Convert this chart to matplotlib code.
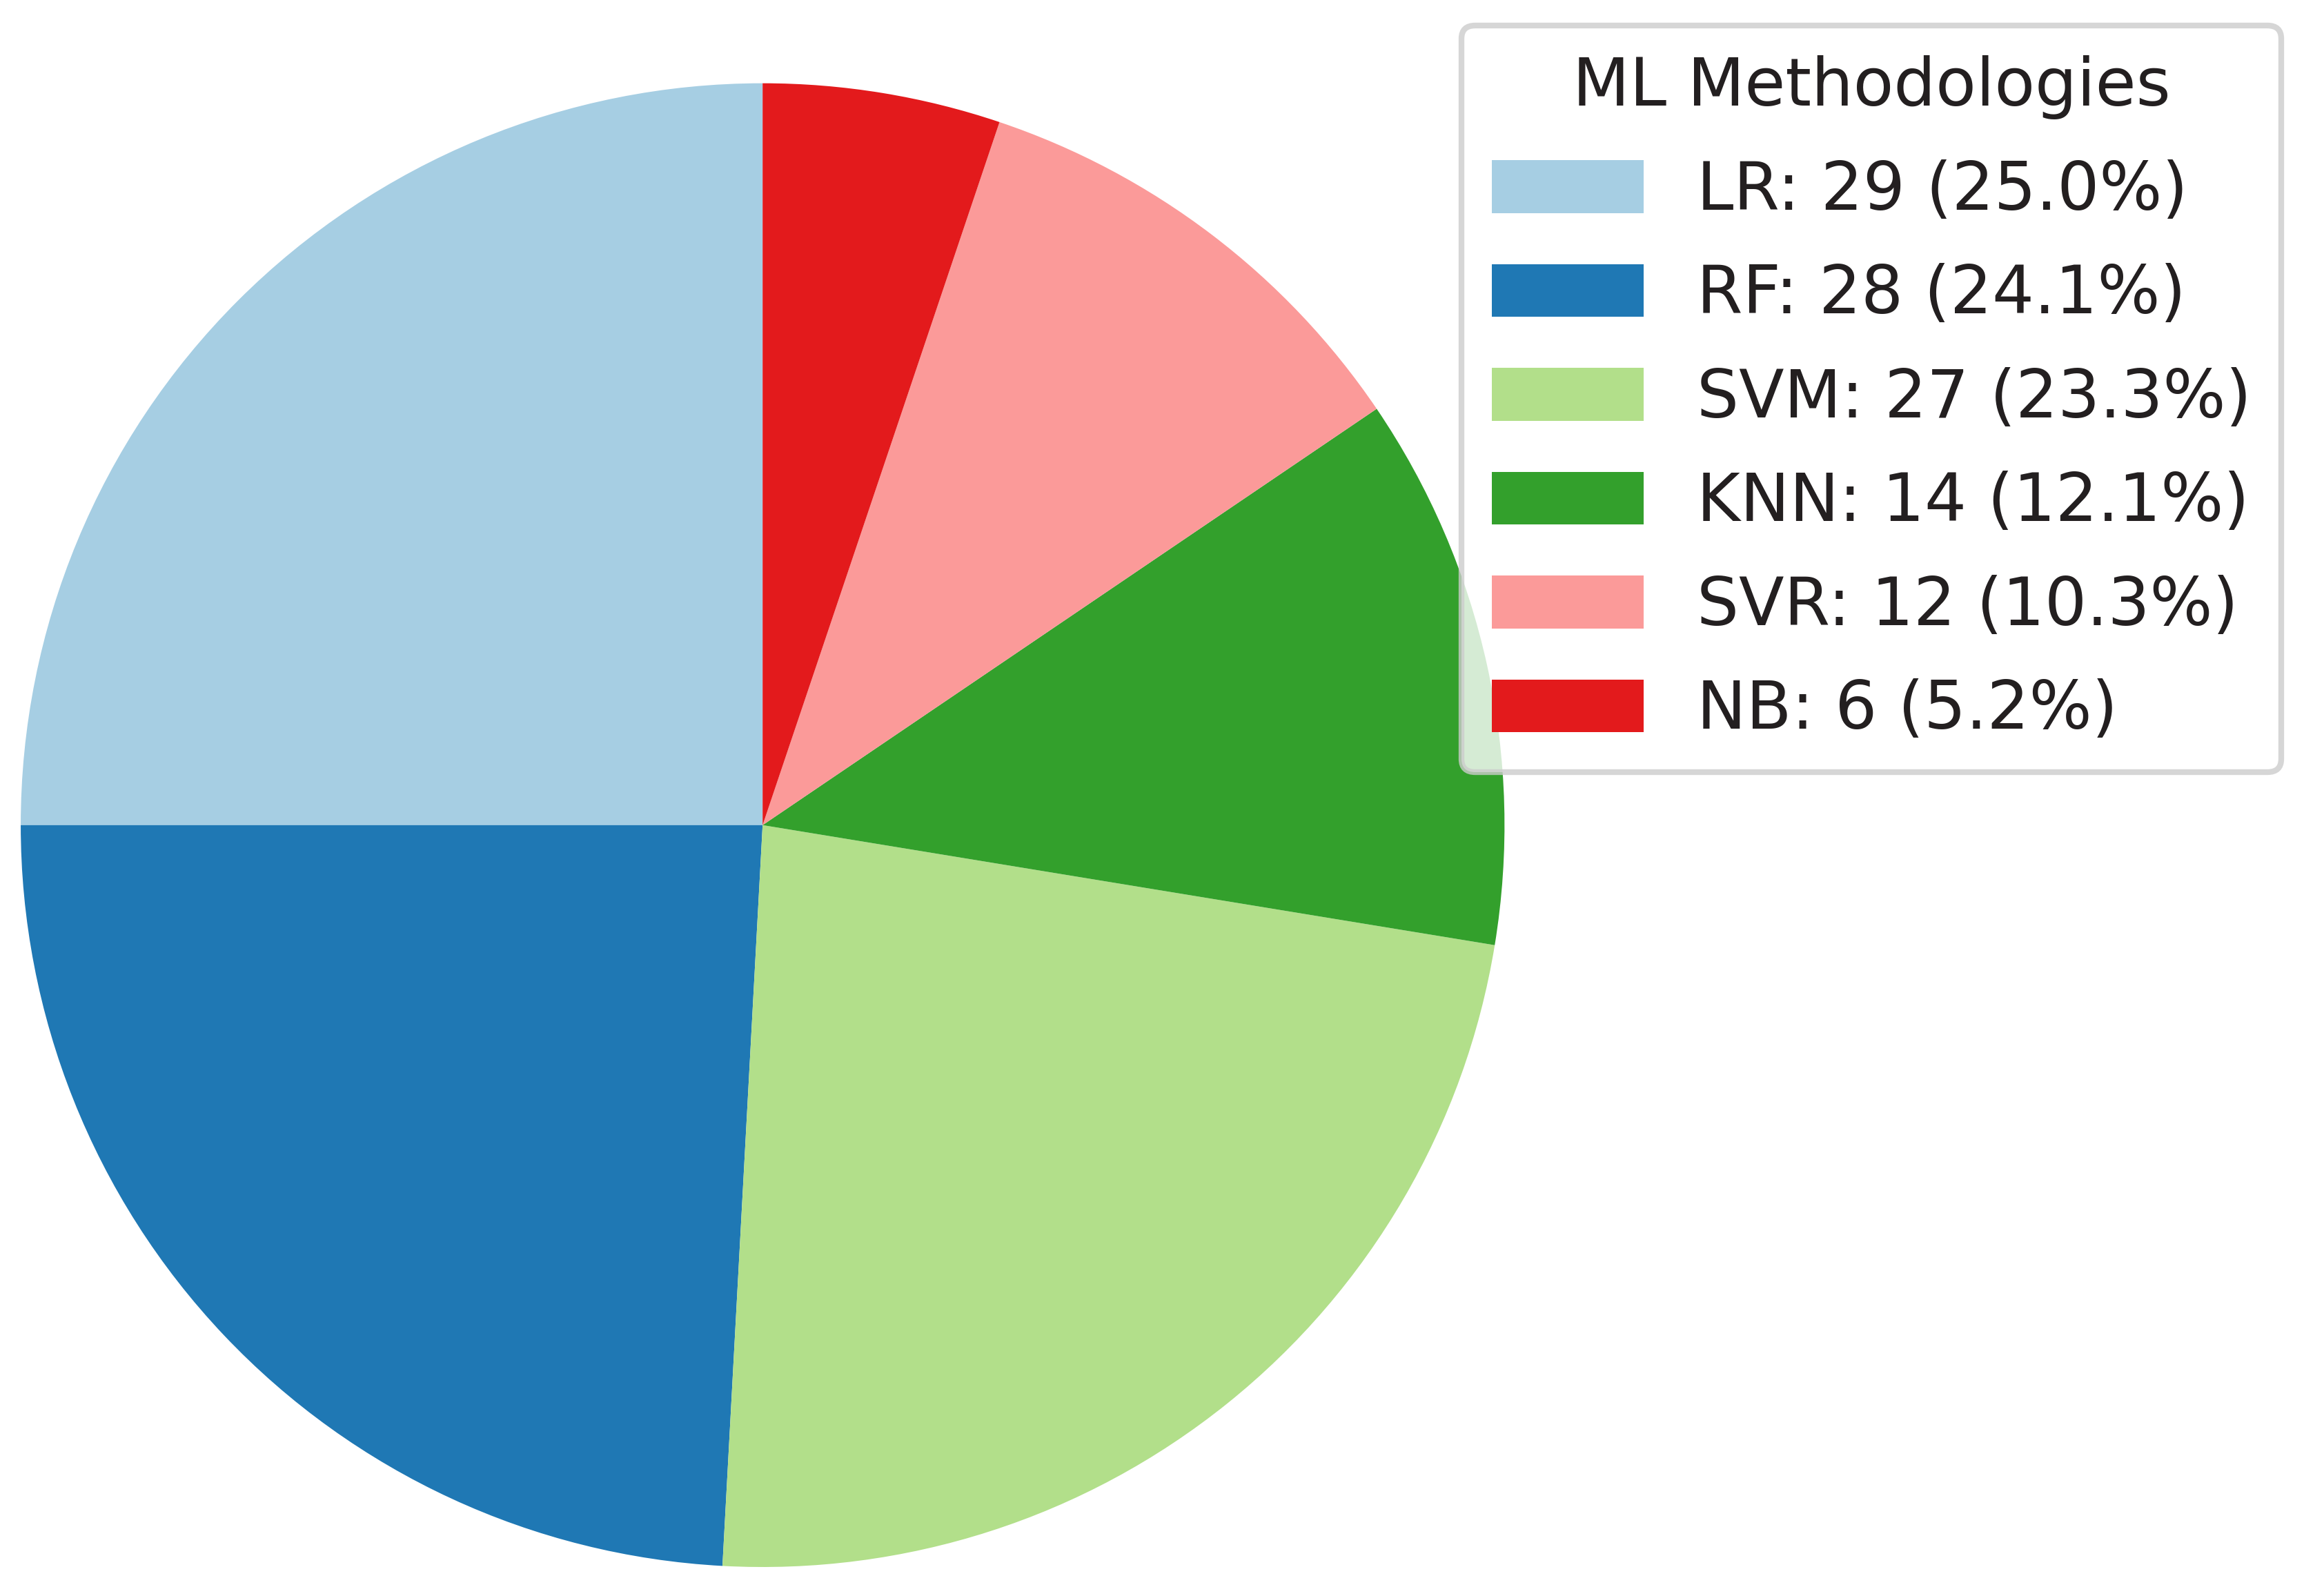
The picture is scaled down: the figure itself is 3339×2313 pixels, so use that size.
import matplotlib
matplotlib.use("Agg")
import matplotlib.pyplot as plt

methods = ["LR", "RF", "SVM", "KNN", "SVR", "NB"]
counts = [29, 28, 27, 14, 12, 6]
colors = ["#a6cee3", "#1f78b4", "#b2df8a", "#33a02c", "#fb9a99", "#e31a1c"]

total = sum(counts)
labels = [f"{m}: {c} ({c / total * 100:.1f}%)" for m, c in zip(methods, counts)]

fig = plt.figure(figsize=(11.13, 7.71), dpi=300)
ax = fig.add_axes([0.009, 0.018, 0.644, 0.93])
wedges, _ = ax.pie(counts, colors=colors, startangle=90, counterclock=True, radius=1.0)
ax.set_xlim(-1, 1)
ax.set_ylim(-1, 1)
ax.set_aspect("equal")

leg = fig.legend(wedges, labels, title="ML Methodologies", loc="upper right",
                 bbox_to_anchor=(0.99, 0.984), borderaxespad=0,
                 fontsize=23, title_fontsize=23,
                 labelcolor="#231f20", handlelength=2.3, handleheight=0.85,
                 labelspacing=0.6, borderpad=0.45)
leg.get_title().set_color("#231f20")
leg.get_frame().set_linewidth(2)

fig.savefig("out.png", dpi=300)
